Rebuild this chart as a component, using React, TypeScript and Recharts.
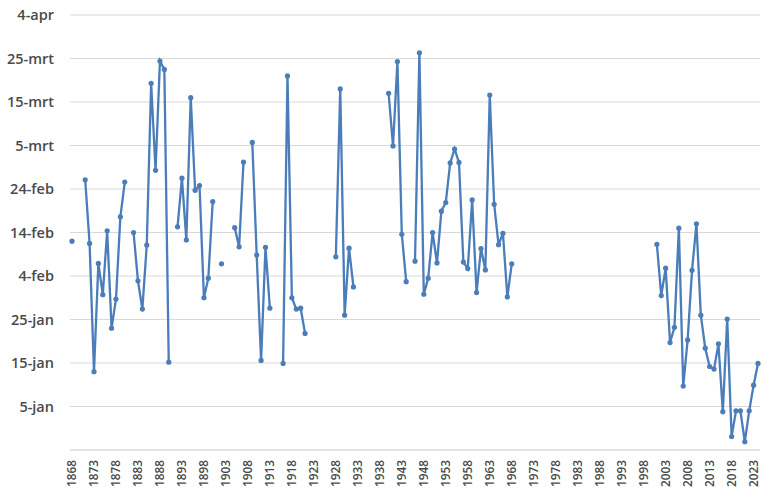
import React from "react";
import { LineChart, Line, XAxis, YAxis, CartesianGrid } from "recharts";

// first winter day below zero / ice date per year, as Excel day number (1 = 1-jan)
const FIRST_YEAR = 1868;

const values: (number | null)[] = [
  // 1868 - 1879
  43, null, null, 57.1, 42.5, 13.0, 37.9, 30.7, 45.4, 23.0, 29.7, 48.6,
  // 1880 - 1889
  56.6, null, 45.0, 33.9, 27.4, 42.1, 79.3, 59.3, 84.4, 82.5,
  // 1890 - 1899
  15.2, null, 46.3, 57.5, 43.3, 76.0, 54.7, 55.8, 30.0, 34.5,
  // 1900 - 1909
  52.1, null, 37.8, null, null, 46.1, 41.7, 61.2, null, 65.7,
  // 1910 - 1919
  39.8, 15.6, 41.6, 27.6, null, null, 14.9, 81.0, 30.0, 27.4,
  // 1920 - 1929
  27.6, 21.8, null, null, null, null, null, null, 39.4, 78.0,
  // 1930 - 1939
  26.0, 41.4, 32.5, null, null, null, null, null, null, null,
  // 1940 - 1949
  77.0, 64.9, 84.3, 44.6, 33.7, null, 38.4, 86.3, 30.8, 34.5,
  // 1950 - 1959
  45.0, 38.0, 49.9, 51.9, 61.0, 64.2, 61.1, 38.2, 36.7, 52.5,
  // 1960 - 1969
  31.2, 41.3, 36.4, 76.6, 51.5, 42.2, 44.8, 30.2, 37.8, null,
  // 1970 - 1979
  null, null, null, null, null, null, null, null, null, null,
  // 1980 - 1989
  null, null, null, null, null, null, null, null, null, null,
  // 1990 - 1999
  null, null, null, null, null, null, null, null, null, null,
  // 2000 - 2009
  null, 42.3, 30.5, 36.8, 19.7, 23.2, 46.0, 9.7, 20.3, 36.3,
  // 2010 - 2019
  47.0, 26.0, 18.4, 14.2, 13.6, 19.4, 3.8, 25.1, -1.9, 4.0,
  // 2020 - 2024
  4.0, -3.1, 4.0, 9.9, 14.9,
];

const yTicks = [-5, 5, 15, 25, 35, 45, 55, 65, 75, 85, 95];
const yTickLabels = ["", "5-jan", "15-jan", "25-jan", "4-feb", "14-feb", "24-feb", "5-mrt", "15-mrt", "25-mrt", "4-apr"];

const data = values.map((v, i) => ({ year: String(FIRST_YEAR + i), value: v }));

const FONT = "'Open Sans', sans-serif";
const TEXT = "#4a4a4a";
const GRID = "#d9d9d9";
const BLUE = "#4a7dba";

function YearTick(props: any) {
  const { x, y, payload } = props;
  return (
    <g transform={`translate(${x},${y})`}>
      <text
        transform="rotate(-90)"
        textAnchor="end"
        dy="0.35em"
        fill={TEXT}
        fontSize={11.8}
        fontWeight={600}
        fontFamily={FONT}
      >
        {payload.value}
      </text>
    </g>
  );
}

export default function App() {
  return (
    <div style={{ position: "absolute", left: 0, top: 0, background: "#fff" }}>
      <LineChart width={770} height={502} data={data} margin={{ top: 15, right: 10, bottom: 2, left: 0 }}>
        <CartesianGrid vertical={false} stroke={GRID} />
        <XAxis
          dataKey="year"
          interval={4}
          padding={{ left: 2, right: 2 }}
          tickLine={false}
          tickSize={0}
          tickMargin={10}
          axisLine={{ stroke: GRID }}
          height={50}
          tick={<YearTick />}
        />
        <YAxis
          type="number"
          domain={[-5, 95]}
          ticks={yTicks}
          interval={0}
          width={70}
          axisLine={false}
          tickLine={false}
          tickSize={0}
          tickMargin={16}
          tickFormatter={(v: number) => yTickLabels[yTicks.indexOf(v)] ?? ""}
          tick={{ fill: TEXT, fontSize: 14.5, fontWeight: 600, fontFamily: FONT }}
        />
        <Line
          type="linear"
          dataKey="value"
          stroke={BLUE}
          strokeWidth={2.3}
          dot={{ r: 2.6, fill: BLUE, stroke: BLUE, strokeWidth: 0 }}
          activeDot={false}
          isAnimationActive={false}
        />
      </LineChart>
    </div>
  );
}
